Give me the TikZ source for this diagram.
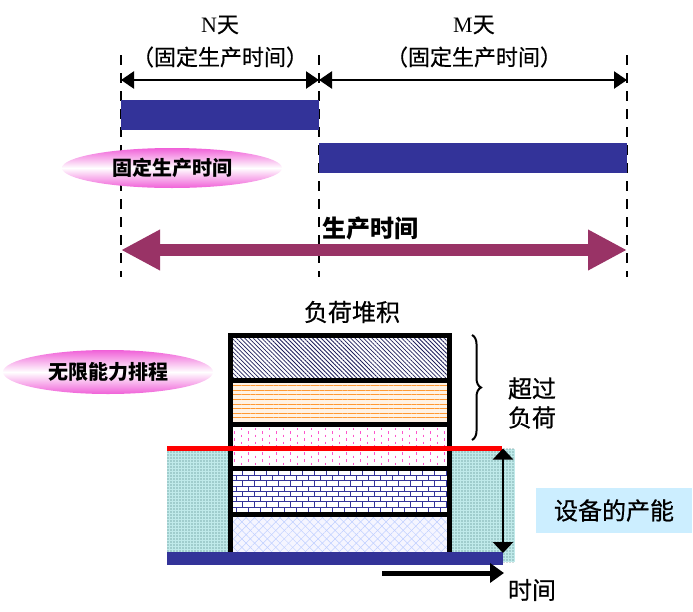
\documentclass[tikz,border=0pt]{standalone}
\usepackage{fontspec}
\setmainfont{Liberation Serif}
\newfontfamily\cjk{Noto Sans CJK SC}
\newfontfamily\cjkm[FakeBold=0.5]{Noto Sans CJK SC}
\usetikzlibrary{arrows.meta,patterns,patterns.meta,decorations.pathreplacing,shapes.geometric}
\definecolor{navyc}{HTML}{333399}
\definecolor{plumc}{HTML}{993366}
\definecolor{pinkc}{HTML}{F060D8}
\definecolor{boxblue}{HTML}{CCEEFF}
\definecolor{tealfill}{HTML}{C0EAEA}
\definecolor{tealdot}{HTML}{3A6E6E}
\definecolor{peach}{HTML}{FFF3E6}
\definecolor{orangec}{HTML}{FF9933}
\definecolor{magc}{HTML}{FF55CC}
\tikzset{
  dashline/.style={line width=2pt, dash pattern=on 10pt off 8pt},
  toparrow/.style={line width=2.5pt, {Triangle[length=13pt,width=17pt]}-{Triangle[length=13pt,width=17pt]}},
  bigarrow/.style={plumc, line width=12pt, {Triangle[length=39pt,width=38pt]}-{Triangle[length=39pt,width=38pt]}},
  bar/.style={fill=navyc, inner sep=0pt},
  pinkell/.style={ellipse, inner sep=0pt, top color=pinkc, bottom color=pinkc, middle color=white},
  txt/.style={inner sep=0pt, font=\cjkm\fontsize{22}{26}\selectfont},
  bigtxt/.style={inner sep=0pt, font=\cjkm\fontsize{24}{28}\selectfont},
}
\begin{document}
\begin{tikzpicture}[x=1pt,y=-1pt]
\useasboundingbox (0,0) rectangle (693,611);

% dashed guide lines
\coordinate (d1t) at (121,55); \coordinate (d1b) at (121,277);
\coordinate (d2t) at (319,55); \coordinate (d2b) at (319,277);
\coordinate (d3t) at (627,55); \coordinate (d3b) at (627,277);
\draw[dashline] (d1t) -- (d1b);
\draw[dashline] (d2t) -- (d2b);
\draw[dashline] (d3t) -- (d3b);

% labels top
\node[txt] (n1) at (220,25) {{\rmfamily N}天};
\node[txt] (n2) at (220,57) {（固定生产时间）};
\node[txt] (m1) at (474,25) {{\rmfamily M}天};
\node[txt] (m2) at (474,57) {（固定生产时间）};

% top arrows
\coordinate (a1) at (121,80); \coordinate (a2) at (319,80); \coordinate (a3) at (627,80);
\draw[toparrow] (a1) -- (a2);
\draw[toparrow] (a2) -- (a3);

% bars
\node[bar, minimum width=198pt, minimum height=30pt] (bar1) at (220,115) {};
\node[bar, minimum width=308pt, minimum height=30pt] (bar2) at (473,158) {};

% ellipse 1
\node[pinkell, minimum width=220pt, minimum height=40pt, font=\cjk\bfseries\fontsize{20}{24}\selectfont] (e1) at (172,168) {固定生产时间};

% purple arrow
\coordinate (p1) at (121,250); \coordinate (p2) at (627,250);
\draw[bigarrow] (p1) -- (p2);
\node[inner sep=0pt, font=\cjk\bfseries\fontsize{24}{28}\selectfont] (pt) at (370,228) {生产时间};

% load pile label
\node[bigtxt] (fh) at (352,312) {负荷堆积};

% ellipse 2
\node[pinkell, minimum width=210pt, minimum height=44pt, font=\cjk\bfseries\fontsize{20}{24}\selectfont] (e2) at (108,372) {无限能力排程};

% teal capacity area
\fill[tealfill] (167,448.5) rectangle (515,562);
\fill[pattern={Dots[distance=3pt,radius=0.6pt]}, pattern color=tealdot] (167,448.5) rectangle (515,562);

% stack layers
\fill[white] (230,335) rectangle (449,552);
% L1
\fill[pattern={Lines[angle=-45,distance=3pt,line width=0.8pt]}, pattern color=navyc!60!black] (230,335) rectangle (449,380);
% L2
\fill[peach] (230,380) rectangle (449,424.5);
\fill[pattern={Lines[angle=0,distance=4.6pt,line width=0.7pt]}, pattern color=orangec] (230,380) rectangle (449,424.5);
% L3
\begin{scope}
\clip (230,424.5) rectangle (449,468);
\foreach \i in {0,...,31}{
  \pgfmathsetmacro{\xx}{234+7*\i}
  \pgfmathsetmacro{\ph}{mod(\i,2)*3.5}
  \draw[magc, line width=0.8pt, dash pattern=on 2.5pt off 4.5pt, dash phase=\ph pt] (\xx,424) -- (\xx,469);
}
\end{scope}
% L4 bricks
\begin{scope}
\clip (230,468) rectangle (449,514.5);
\foreach \r in {0,...,8}{
  \pgfmathsetmacro{\yy}{470+5.3*\r}
  \draw[navyc, line width=0.8pt] (228,\yy) -- (451,\yy);
  \pgfmathsetmacro{\off}{mod(\r,2)*6}
  \foreach \c in {0,...,19}{
    \pgfmathsetmacro{\xx}{230+\off+12*\c}
    \draw[navyc, line width=0.8pt] (\xx,\yy) -- (\xx,\yy+5.3);
  }
}
\end{scope}
% L5
\fill[blue!4] (230,514.5) rectangle (449,552);
\fill[pattern={Lines[angle=45,distance=6pt,line width=0.5pt]}, pattern color=cyan!25!blue!25] (230,514.5) rectangle (449,552);
\fill[pattern={Lines[angle=-45,distance=6pt,line width=0.5pt]}, pattern color=cyan!25!blue!25] (230,514.5) rectangle (449,552);
% borders
\draw[line width=5pt] (230,552) -- (230,335) -- (449,335) -- (449,552);
\draw[line width=5pt] (230,380) -- (449,380);
\draw[line width=5pt] (230,424.5) -- (449,424.5);
\draw[line width=5pt] (230,468) -- (449,468);
\draw[line width=5pt] (230,514.5) -- (449,514.5);

% red capacity line
\coordinate (r1) at (167,448.5); \coordinate (r2) at (502,448.5);
\draw[red, line width=4.5pt] (r1) -- (r2);

% blue base bar
\node[bar, minimum width=336pt, minimum height=13pt] (base) at (335,558.5) {};

% capacity arrow
\coordinate (v1) at (503,448.5); \coordinate (v2) at (503,553);
\draw[line width=2.5pt, {Triangle[length=11pt,width=20pt]}-{Triangle[length=11pt,width=20pt]}] (v1) -- (v2);

% time arrow
\coordinate (t1) at (382,573); \coordinate (t2) at (504,573);
\draw[line width=5pt, -{Triangle[length=14pt,width=19pt]}] (t1) -- (t2);
\node[bigtxt] (sj) at (532,590) {时间};

% brace
\coordinate (b1) at (472,335); \coordinate (b2) at (472,440);
\draw[line width=2pt, decorate, decoration={brace, amplitude=9pt}] (b1) -- (b2);
\node[bigtxt, align=center] (cg) at (532,403) {超过\\[1pt]负荷};

% capacity box
\node[bigtxt, fill=boxblue, minimum width=156pt, minimum height=45pt] (cap) at (614,510.5) {设备的产能};
\end{tikzpicture}
\end{document}
